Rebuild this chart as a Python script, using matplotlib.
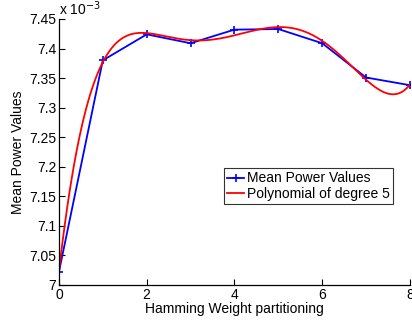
import numpy as np
import matplotlib
matplotlib.use("Agg")
import matplotlib.pyplot as plt
from matplotlib.ticker import FuncFormatter

hw = [0, 1, 2, 3, 4, 5, 6, 7, 8]
mean_power = [7.022e-3, 7.380e-3, 7.424e-3, 7.409e-3, 7.432e-3, 7.433e-3, 7.409e-3, 7.351e-3, 7.338e-3]
poly_degree = 5
xticks = [0, 2, 4, 6, 8]
yticks = [7.0e-3, 7.05e-3, 7.1e-3, 7.15e-3, 7.2e-3, 7.25e-3, 7.3e-3, 7.35e-3, 7.4e-3, 7.45e-3]

plt.rcParams['font.family'] = ['Liberation Sans', 'DejaVu Sans']

fig = plt.figure(figsize=(4.12, 3.22), dpi=100)
ax = fig.add_axes([0.143, 0.115, 0.852, 0.826])

coef = np.polyfit(hw, mean_power, poly_degree)
xf = np.linspace(hw[0], hw[-1], 300)
yf = np.polyval(coef, xf)

ax.plot(hw, mean_power, color='#0000ff', lw=1.3, marker='+', ms=6, mew=1.2, label='Mean Power Values')
ax.plot(xf, yf, color='#ff0000', lw=1.3, label='Polynomial of degree 5')

ax.set_xlim(0, 8)
ax.set_ylim(7.0e-3, 7.45e-3)
ax.set_xticks(xticks)
ax.set_yticks(yticks)
ax.yaxis.set_major_formatter(FuncFormatter(lambda v, p: '%g' % round(v * 1e3, 4)))
ax.tick_params(direction='in', length=4, labelsize=10, width=0.8, pad=2)
for s in ['top', 'right']:
    ax.spines[s].set_visible(False)
for s in ['left', 'bottom']:
    ax.spines[s].set_linewidth(0.9)

ax.set_xlabel('Hamming Weight partitioning', fontsize=10, labelpad=0)
ax.set_ylabel('Mean Power Values', fontsize=10)
ax.yaxis.set_label_coords(-0.097, 0.5)
ax.text(0.0, 1.005, r'x 10$^{-3}$', transform=ax.transAxes, fontsize=10, ha='left', va='bottom')

leg = ax.legend(loc='upper left', bbox_to_anchor=(0.47, 0.44), fontsize=10, frameon=True,
                fancybox=False, edgecolor='black', borderpad=0.25, handlelength=1.2,
                handletextpad=0.2, labelspacing=0.1, borderaxespad=0)
leg.get_frame().set_linewidth(0.8)

fig.savefig('out.png', dpi=100)
